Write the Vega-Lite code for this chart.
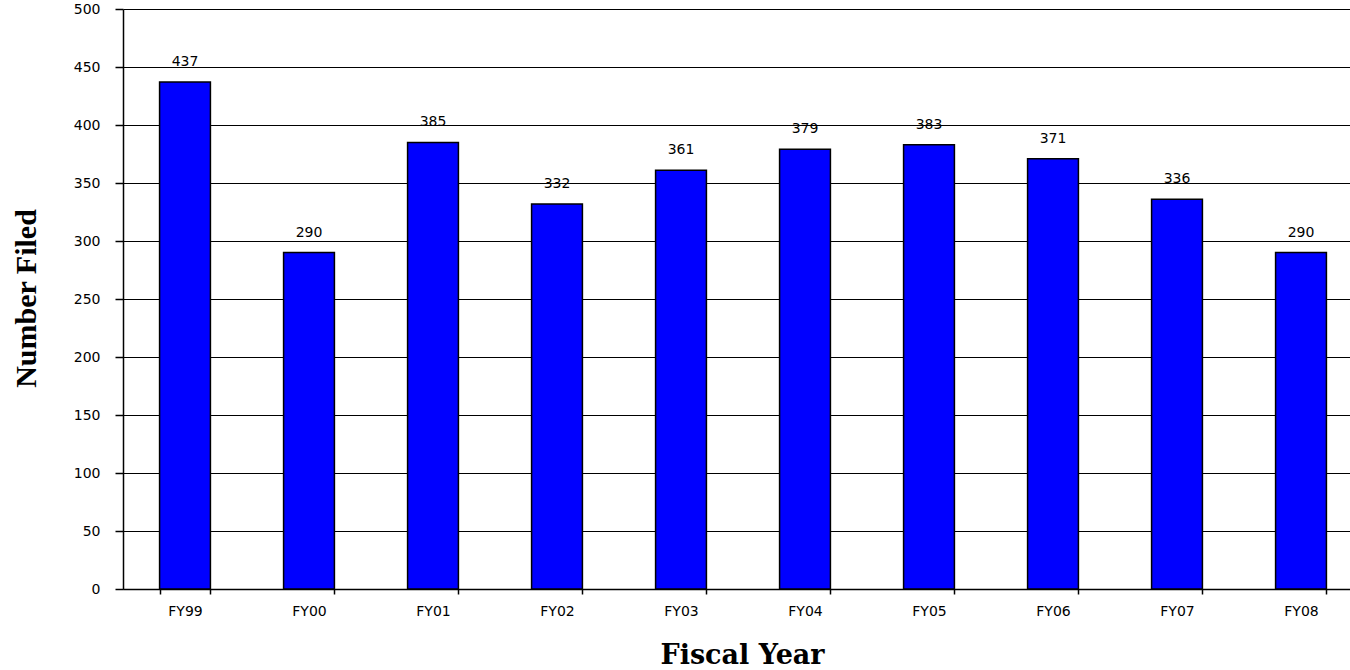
{
  "$schema": "https://vega.github.io/schema/vega-lite/v6.json",
  "width": 1240,
  "height": 580,
  "autosize": "none",
  "padding": {"left": 123, "top": 9, "right": 0, "bottom": 81},
  "background": "white",
  "data": {"values": [
    {"year": "FY99", "n": 437},
    {"year": "FY00", "n": 290},
    {"year": "FY01", "n": 385},
    {"year": "FY02", "n": 332},
    {"year": "FY03", "n": 361},
    {"year": "FY04", "n": 379},
    {"year": "FY05", "n": 383},
    {"year": "FY06", "n": 371},
    {"year": "FY07", "n": 336},
    {"year": "FY08", "n": 290}
  ]},
  "config": {"view": {"stroke": null}},
  "encoding": {
    "x": {"field": "year", "type": "nominal", "sort": null,
      "scale": {"paddingInner": 0.59, "paddingOuter": 0.295},
      "axis": {"title": "Fiscal Year", "labelAngle": 0, "labelFont": "DejaVu Sans", "labelFontSize": 14, "labelColor": "#000",
        "labelPadding": 10, "tickBand": "extent", "tickSize": 5, "tickColor": "#000", "tickWidth": 1.5, "domainColor": "#000", "domainWidth": 1.5,
        "titleFont": "DejaVu Serif", "titleFontWeight": "bold", "titleFontSize": 27, "titleColor": "#000",
        "titleX": 619, "titleY": 74, "titleBaseline": "alphabetic", "titleAlign": "center"}},
    "y": {"field": "n", "type": "quantitative",
      "scale": {"domain": [0, 500], "nice": false},
      "axis": {"title": "Number Filed", "values": [0,50,100,150,200,250,300,350,400,450,500], "grid": true, "gridColor": "#000", "gridWidth": 1.2, "gridOpacity": 1,
        "labelFont": "DejaVu Sans", "labelFontSize": 14, "labelColor": "#000", "labelPadding": 15, "tickSize": 8, "tickColor": "#000", "tickWidth": 1.5,
        "domainColor": "#000", "domainWidth": 1.5,
        "titleFont": "Liberation Serif", "titleFontWeight": "bold", "titleFontSize": 30, "titleColor": "#000", "titleX": -88, "titleY": 289, "titleAngle": -90, "titleAlign": "center", "titleBaseline": "alphabetic"}}
  },
  "layer": [
    {"mark": {"type": "bar", "color": "#0000FF", "stroke": "#000", "strokeWidth": 1.5}},
    {"mark": {"type": "text", "baseline": "bottom", "dy": -13, "font": "DejaVu Sans", "fontSize": 14, "color": "#000"},
     "encoding": {"text": {"field": "n", "type": "quantitative"}}}
  ]
}
